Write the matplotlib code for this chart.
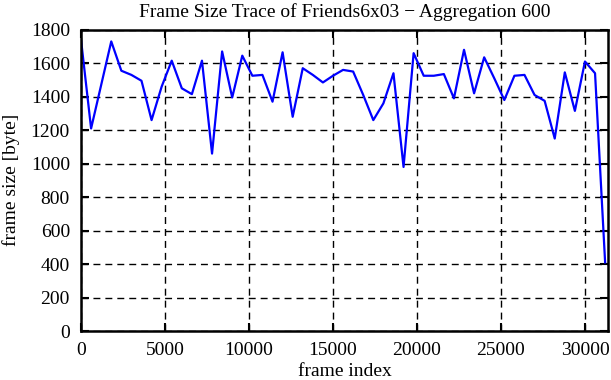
import matplotlib.pyplot as plt

agg = 600
sizes = [1740, 1210, 1470, 1730, 1555, 1530, 1495, 1260, 1460, 1615,
         1450, 1415, 1615, 1060, 1670, 1395, 1645, 1525, 1530, 1370,
         1665, 1280, 1570, 1530, 1485, 1525, 1560, 1550, 1410, 1260,
         1360, 1540, 980, 1660, 1525, 1525, 1535, 1390, 1680, 1420,
         1635, 1510, 1380, 1525, 1530, 1410, 1375, 1150, 1545, 1315,
         1610, 1540, 410]
frames = [i * agg for i in range(len(sizes))]

x_ticks = [0, 5000, 10000, 15000, 20000, 25000, 30000]
y_ticks = [0, 200, 400, 600, 800, 1000, 1200, 1400, 1600, 1800]

plt.rcParams["font.family"] = ["Liberation Serif", "DejaVu Serif"]

fig = plt.figure(figsize=(6.11, 3.80), dpi=100)
ax = fig.add_axes([0.1326, 0.1289, 0.863, 0.7929])

ax.plot(frames, sizes, color="#0000ff", lw=1.6)

ax.set_xlim(0, 31390)
ax.set_ylim(0, 1800)
ax.set_xticks(x_ticks)
ax.set_yticks(y_ticks)
ax.grid(True, color="black", linestyle=(0, (5, 3.6)), lw=1.0)

ax.tick_params(direction="in", top=True, right=True, length=6, width=1.5,
               labelsize=14, pad=8)
for s in ax.spines.values():
    s.set_linewidth(1.8)

ax.set_title("Frame Size Trace of Friends6x03 \u2212 Aggregation 600",
             fontsize=14, pad=9)
ax.set_xlabel("frame index", fontsize=14, labelpad=3)
ax.set_ylabel("frame size [byte]", fontsize=14, labelpad=8)

fig.savefig("out.png", dpi=100)
